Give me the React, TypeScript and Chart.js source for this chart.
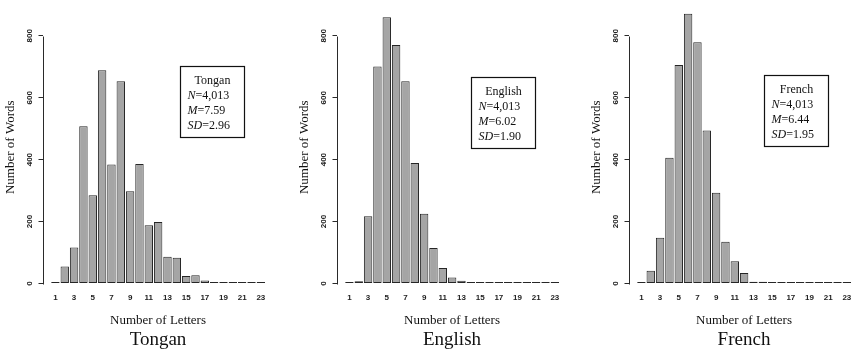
import React, { useEffect, useRef } from 'react';
import { Chart, registerables } from 'chart.js';

Chart.register(...registerables);

// ---- data ----
const letterCounts = [1, 2, 3, 4, 5, 6, 7, 8, 9, 10, 11, 12, 13, 14, 15, 16, 17, 18, 19, 20, 21, 22, 23];
const tonganWords = [3, 55, 116, 508, 285, 689, 384, 653, 298, 386, 188, 199, 86, 83, 24, 27, 10, 5, 1, 1, 1, 1, 1];
const englishWords = [0, 7, 217, 701, 860, 770, 653, 389, 225, 115, 50, 19, 9, 2, 1, 0, 0, 0, 0, 0, 0, 0, 0];
const frenchWords = [0, 41, 148, 406, 706, 871, 779, 494, 293, 135, 72, 34, 6, 6, 2, 1, 0, 0, 0, 0, 0, 0, 0];
const xTickValues = [1, 3, 5, 7, 9, 11, 13, 15, 17, 19, 21, 23];
const yTickValues = [0, 200, 400, 600, 800];
const languages = ['Tongan', 'English', 'French'];
const statN = ['4,013', '4,013', '4,013'];
const statM = ['7.59', '6.02', '6.44'];
const statSD = ['2.96', '1.90', '1.95'];
const seriesList = [tonganWords, englishWords, frenchWords];

const xAxisTitle = 'Number of Letters';
const yAxisTitle = 'Number of Words';

// ---- layout / style ----
const PANEL_LEFT = [1, 295, 587];
const BOX_ANCHOR = [
  { x: 14.34, y: 703 },
  { x: 14.02, y: 668 },
  { x: 14.16, y: 673 },
];
const CANVAS_W = 276;
const CANVAS_H = 350;
const SERIF = "'Liberation Serif', 'Times New Roman', serif";
const SANS = "'Liberation Sans', Arial, sans-serif";

function makeDecorPlugin(idx: number) {
  return {
    id: 'panelDecor' + idx,
    afterDraw(chart: any) {
      const { ctx, chartArea, scales } = chart;
      const xs = scales.x;
      const ys = scales.y;
      ctx.save();
      // y axis line from first to last tick
      const ax = Math.round(chartArea.left - 0.5) + 0.5;
      const y0 = Math.round(ys.getPixelForValue(yTickValues[0]));
      const y1 = Math.round(ys.getPixelForValue(yTickValues[yTickValues.length - 1]));
      ctx.strokeStyle = '#2a2a2a';
      ctx.lineWidth = 1;
      ctx.beginPath();
      ctx.moveTo(ax, y0 + 0.5);
      ctx.lineTo(ax, y1 + 0.5);
      ctx.stroke();

      // stats box
      const bx = Math.round(xs.getPixelForValue(BOX_ANCHOR[idx].x)) + 0.5;
      const by = Math.round(ys.getPixelForValue(BOX_ANCHOR[idx].y)) + 0.5;
      const bw = 64;
      const bh = 71;
      ctx.fillStyle = '#fff';
      ctx.fillRect(bx, by, bw, bh);
      ctx.strokeStyle = '#111';
      ctx.lineWidth = 1.2;
      ctx.strokeRect(bx, by, bw, bh);

      ctx.fillStyle = '#111';
      ctx.textBaseline = 'alphabetic';
      ctx.font = `12px ${SERIF}`;
      ctx.textAlign = 'center';
      ctx.fillText(languages[idx], bx + bw / 2, by + 17);
      ctx.textAlign = 'left';
      const rows: [string, string][] = [
        ['N', '=' + statN[idx]],
        ['M', '=' + statM[idx]],
        ['SD', '=' + statSD[idx]],
      ];
      rows.forEach((r, i) => {
        const ty = by + 32 + i * 15;
        const tx = bx + 7;
        ctx.font = `italic 12px ${SERIF}`;
        ctx.fillText(r[0], tx, ty);
        const w = ctx.measureText(r[0]).width;
        ctx.font = `12px ${SERIF}`;
        ctx.fillText(r[1], tx + w, ty);
      });
      ctx.restore();
    },
  };
}

function Panel({ idx }: { idx: number }) {
  const ref = useRef<HTMLCanvasElement>(null);
  useEffect(() => {
    const canvas = ref.current;
    if (!canvas) return;
    const chart = new Chart(canvas, {
      type: 'bar',
      data: {
        labels: letterCounts,
        datasets: [
          {
            data: seriesList[idx],
            backgroundColor: '#a5a5a5',
            borderColor: '#262626',
            borderWidth: 1,
            borderSkipped: false,
            barPercentage: 0.9,
            categoryPercentage: 1,
            minBarLength: 1.5,
          },
        ],
      },
      options: {
        responsive: false,
        animation: false,
        devicePixelRatio: 1,
        layout: { padding: { top: 11, right: 4, bottom: 0, left: 0 } },
        plugins: {
          legend: { display: false },
          tooltip: { enabled: false },
          title: {
            display: true,
            position: 'bottom',
            fullSize: false,
            text: languages[idx],
            color: '#111',
            font: { family: SERIF, size: 19, weight: 'normal', lineHeight: 1 },
            padding: { top: 2.9, bottom: 0 },
          },
        },
        scales: {
          x: {
            type: 'linear',
            min: -0.33,
            max: 24.3,
            offset: false,
            afterBuildTicks: (s: any) => {
              s.ticks = xTickValues.map((v) => ({ value: v }));
            },
            afterFit: (s: any) => {
              s.height = 44.6;
            },
            grid: { display: false, drawTicks: false, offset: false },
            border: { display: false },
            ticks: {
              font: { family: SANS, size: 8, weight: 'bold' },
              color: '#222',
              padding: 9.2,
              maxRotation: 0,
              minRotation: 0,
              autoSkip: false,
              callback: (v: any) => String(v),
            },
            title: {
              display: true,
              text: xAxisTitle,
              color: '#111',
              font: { family: SERIF, size: 13, weight: 'normal' },
              padding: { top: 0, bottom: 0 },
            },
          },
          y: {
            type: 'linear',
            min: 0,
            max: 880,
            afterBuildTicks: (s: any) => {
              s.ticks = yTickValues.map((v) => ({ value: v }));
            },
            afterFit: (s: any) => {
              s.width = 42;
            },
            grid: { drawOnChartArea: false, drawTicks: true, tickLength: 4.5, color: '#2a2a2a', lineWidth: 1 },
            border: { display: false },
            ticks: {
              font: { family: SANS, size: 8, weight: 'bold' },
              color: '#222',
              padding: 2.0,
              minRotation: 90,
              maxRotation: 90,
              crossAlign: 'center',
              callback: (v: any) => String(v),
            },
            title: {
              display: true,
              text: yAxisTitle,
              color: '#111',
              font: { family: SERIF, size: 13, weight: 'normal' },
              padding: { top: 1.5, bottom: 0 },
            },
          },
        },
      } as any,
      plugins: [makeDecorPlugin(idx)],
    });
    return () => chart.destroy();
  }, [idx]);
  return (
    <canvas
      ref={ref}
      width={CANVAS_W}
      height={CANVAS_H}
      style={{ position: 'absolute', left: PANEL_LEFT[idx], top: 0, width: CANVAS_W, height: CANVAS_H }}
    />
  );
}

export default function App() {
  return (
    <div
      style={{
        position: 'absolute',
        left: 0,
        top: 0,
        width: 855,
        height: 350,
        overflow: 'hidden',
        background: '#fff',
      }}
    >
      {languages.map((_, i) => (
        <Panel key={i} idx={i} />
      ))}
    </div>
  );
}
